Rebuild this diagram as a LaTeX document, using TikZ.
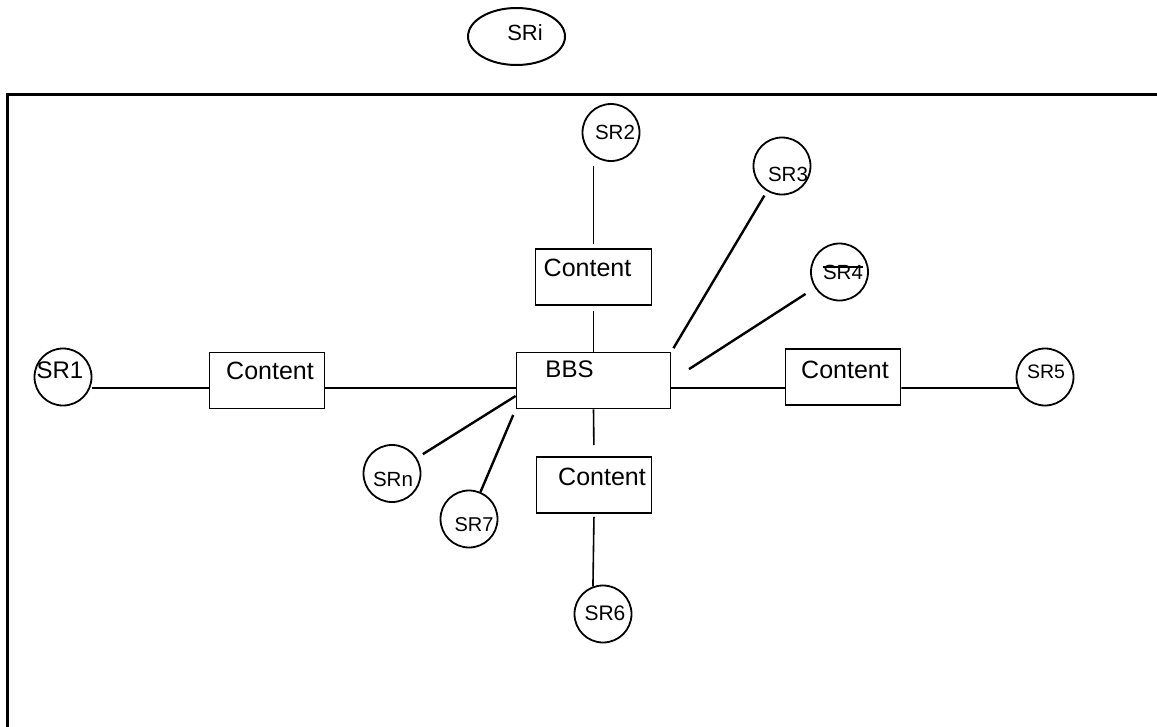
\documentclass[tikz,border=0pt]{standalone}
\usepackage{fontspec}
\setmainfont{Liberation Sans}
\usetikzlibrary{shapes.geometric}
\newcommand\mytext[4]{\fontsize{#1pt}{#1pt}\selectfont\raisebox{#3pt}[\height][\depth]{\makebox[0pt]{\hspace*{#2pt}#4}}}
\newcommand\strk[1]{\setbox0=\hbox{#1}\rlap{\rule[0.55em]{\wd0}{1.6pt}}\box0}
\begin{document}
\begin{tikzpicture}[x=1pt,y=-1pt,
  sr/.style={circle,draw,line width=1.8pt,minimum size=57pt,inner sep=0pt},
  ell/.style={ellipse,draw,line width=2pt,minimum width=97pt,minimum height=57pt,inner sep=0pt},
  boxn/.style={rectangle,draw,line width=1.8pt,minimum height=56pt,inner sep=0pt},
  thinln/.style={line width=1.6pt},
  thickln/.style={line width=2.4pt}]
\useasboundingbox (0,0) rectangle (1157,726);
% frame
\draw[line width=3pt] (7.5,740) -- (7.5,94.5) -- (1170,94.5);
% nodes
\node[ell] (SRi) at (516.5,36.5) {\mytext{22}{17}{3.5}{SRi}};
\node[sr] (SR1) at (63,377) {\mytext{24}{-6}{7}{SR1}};
\node[sr] (SR2) at (611,132.5) {\mytext{20.5}{8}{0}{SR2}};
\node[sr] (SR3) at (782,166) {\mytext{20.5}{12}{-8}{SR3}};
\node[sr] (SR4) at (839.5,272) {\mytext{20.5}{7}{0}{\strk{SR4}}};
\node[sr] (SR5) at (1045,377) {\mytext{19.5}{2}{5}{SR5}};
\node[sr] (SRn) at (392,473.5) {\mytext{20.5}{2}{-5.5}{SRn}};
\node[sr] (SR7) at (469,519) {\mytext{20}{10}{-6}{SR7}};
\node[sr] (SR6) at (603,614) {\mytext{21}{4}{1}{SR6}};
\node[boxn,minimum width=115pt] (leftC) at (267,380.5) {\mytext{25}{6}{10}{Content}};
\node[boxn,minimum width=116pt] (topC) at (593.5,277) {\mytext{25}{-12}{9}{Content}};
\node[boxn,minimum width=154pt] (BBS) at (593.5,380.5) {\mytext{24}{-48}{11}{BBS}};
\node[boxn,minimum width=115pt] (rightC) at (843,377) {\mytext{25}{4}{7}{Content}};
\node[boxn,minimum width=115pt] (botC) at (594,485) {\mytext{25}{16}{8}{Content}};
% connectors
\draw[thinln,shorten <=4pt,shorten >=4.5pt] (topC.north) -- (topC.north |- SR2.south);
\draw[thinln,shorten <=5pt] (topC.south) -- (BBS.north);
\draw[thickln,shorten <=5pt,shorten >=4pt] (SR3) -- (BBS.north east);
\draw[thickln,shorten <=11pt,shorten >=21pt] (SR4) -- (BBS.east);
\draw[thinln] ([yshift=-7.5pt]leftC.west) -- ([yshift=-7.5pt]leftC.west -| SR1.east);
\draw[thinln] ([yshift=-7.5pt]leftC.east) -- ([yshift=-7.5pt]BBS.west);
\draw[thinln] ([yshift=-7.5pt]BBS.east) -- ([yshift=-7.5pt]BBS.east -| rightC.west);
\draw[thinln] ([yshift=-11pt]rightC.east) -- (SR5.202);
\draw[thinln,shorten >=11pt] (BBS.south) -- (botC.north);
\draw[thinln,shorten <=3pt] (botC.south) -- (SR6.110);
\draw[thickln,shorten <=7pt] (SRn) -- ([yshift=-15.5pt]BBS.west);
\draw[thickln,shorten >=6pt] (SR7) -- (BBS.south west);
\end{tikzpicture}
\end{document}
